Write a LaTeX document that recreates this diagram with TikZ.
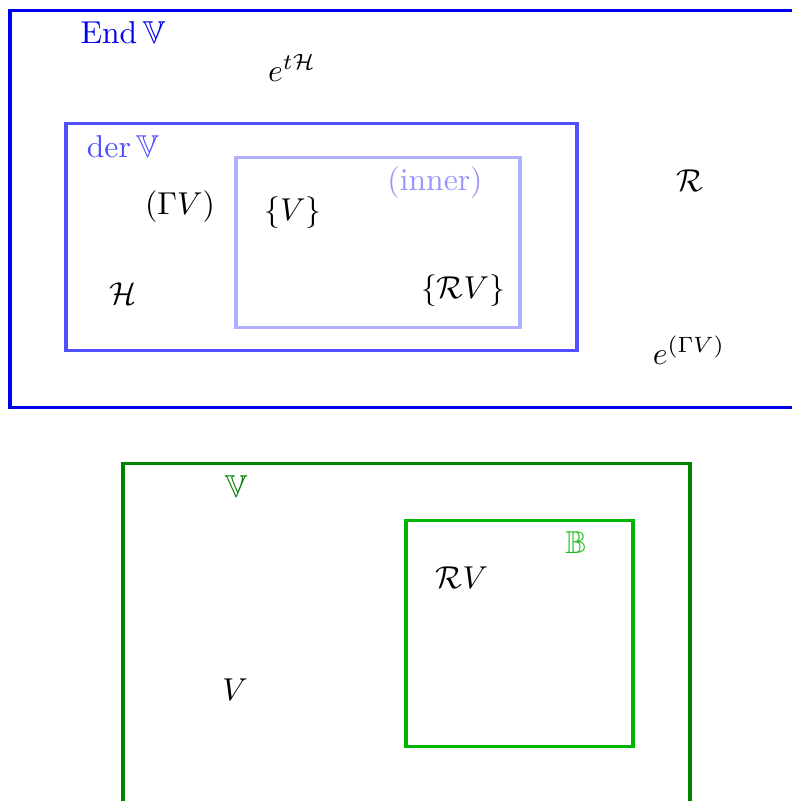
\documentclass[tikz,border=0pt]{standalone}
\usepackage{amsmath,amssymb}
\definecolor{bOuter}{RGB}{0,0,240}
\definecolor{bMid}{RGB}{80,80,255}
\definecolor{bInner}{RGB}{176,176,255}
\definecolor{bInnerT}{RGB}{150,150,255}
\definecolor{gOuter}{RGB}{0,130,0}
\definecolor{gInner}{RGB}{0,180,0}
\definecolor{gInnerT}{RGB}{30,190,30}
\begin{document}
\begin{tikzpicture}[x=0.316pt,y=-0.316pt,
  boxline/.style={line width=0.95pt},
  lbl/.style={inner sep=0pt,anchor=center}]
\useasboundingbox (0,0) rectangle (792,801);
% boxes
\draw[boxline,bOuter] (10,10) rectangle (810,407);
\draw[boxline,bMid] (66,123) rectangle (577,350);
\draw[boxline,bInner] (236,157) rectangle (520,327);
\draw[boxline,gOuter] (123,463) rectangle (690,820);
\draw[boxline,gInner] (406,520) rectangle (633,746);
% labels
\node[lbl,text=bOuter] (endV) at (123,33) {$\mathrm{End}\,\mathbb{V}$};
\node[lbl] (etH) at (292,68) {$e^{t\mathcal{H}}$};
\node[lbl,text=bMid] (derV) at (123,146) {$\mathrm{der}\,\mathbb{V}$};
\node[lbl,text=bInnerT] (inner) at (435,183) {(inner)};
\node[lbl] (GV) at (180,207) {$(\Gamma V)$};
\node[lbl] (setV) at (293,213) {$\{V\}$};
\node[lbl] (setRV) at (463,291) {$\{\mathcal{R}V\}$};
\node[lbl] (H) at (123,294) {$\mathcal{H}$};
\node[lbl] (R) at (690,181) {$\mathcal{R}$};
\node[lbl] (eGV) at (689,350) {$e^{(\Gamma V)}$};
\node[lbl,text=gOuter] (VV) at (236,487) {$\mathbb{V}$};
\node[lbl,text=gInnerT] (BB) at (576,543) {$\mathbb{B}$};
\node[lbl] (RV) at (462,578) {$\mathcal{R}V$};
\node[lbl] (V) at (235,690) {$V$};
\end{tikzpicture}
\end{document}
